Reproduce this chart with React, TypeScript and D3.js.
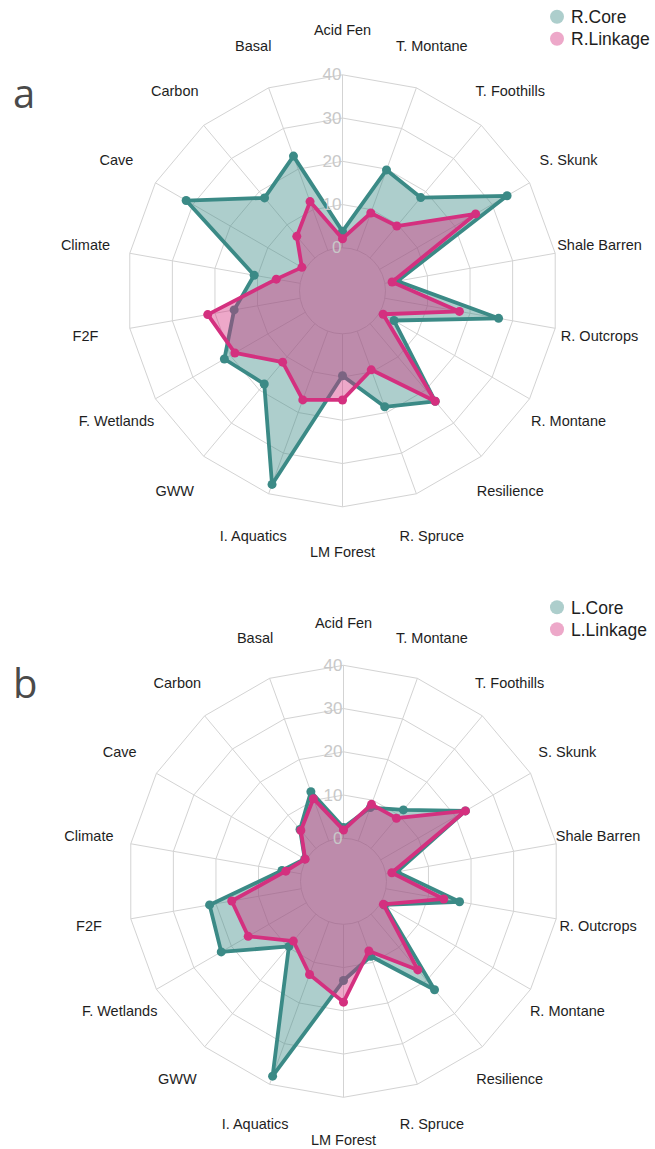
import React from 'react';
import * as d3 from 'd3';

const categories = [
  'Acid Fen', 'T. Montane', 'T. Foothills', 'S. Skunk', 'Shale Barren', 'R. Outcrops',
  'R. Montane', 'Resilience', 'R. Spruce', 'LM Forest', 'I. Aquatics', 'GWW',
  'F. Wetlands', 'F2F', 'Climate', 'Cave', 'Carbon', 'Basal',
];
const radialTicks = [0, 10, 20, 30, 40];

const rCore = [3.8, 19.8, 18.2, 34, 2.9, 26.7, 3.8, 23.4, 18.6, 9.7, 37.7, 18.2, 21.6, 15.5, 10.8, 31.8, 18.1, 23.2];
const rLinkage = [2.1, 9.2, 9.6, 25.6, 1.7, 17.5, 0.9, 23.4, 9.5, 15.3, 16.9, 11.6, 18.8, 21.7, 5.6, 0.9, 6.5, 12.0];
const lCore = [2.5, 8.2, 11.6, 22.6, 2.6, 17.3, 1.0, 22.8, 8.5, 13.0, 38.0, 9.7, 22.7, 21.5, 4.5, 0.4, 5.7, 12.1];
const lLinkage = [1.9, 9.0, 9.1, 22.6, 1.4, 13.6, 0.7, 16.8, 7.2, 18.0, 13.0, 8.1, 15.5, 16.3, 3.6, 0.3, 5.4, 10.4];

const seriesNamesA = ['R.Core', 'R.Linkage'];
const seriesNamesB = ['L.Core', 'L.Linkage'];

const TEAL = '#3b8a86';
const PINK = '#d4307f';
const FILL_OPACITY = 0.42;

const W = 655;
const H = 1149;
const R0 = 43;
const R1 = 216;

type Series = { name: string; values: number[]; color: string };

function Radar({ cx, cy, letter, series, labelR }: { cx: number; cy: number; letter: string; series: Series[]; labelR: number }) {
  const n = categories.length;
  const angle = d3.scaleLinear().domain([0, n]).range([0, 2 * Math.PI]);
  const r = d3.scaleLinear().domain([0, 40]).range([R0, R1]);

  const radialLine = d3
    .lineRadial<number>()
    .angle((_, i) => angle(i))
    .radius((d) => r(d))
    .curve(d3.curveLinearClosed);

  const gridLevels = radialTicks.filter((t) => t > 0);
  const gridColor = '#d3d3d3';

  return (
    <g>
      <text x={13} y={cy - 183} fontFamily="'Open Sans', 'DejaVu Sans', sans-serif" fontSize={40} fill="#4a4a4a">
        {letter}
      </text>
      <g transform={`translate(${cx},${cy})`}>
        <circle r={r(0)} fill="none" stroke={gridColor} strokeWidth={1} />
        {gridLevels.map((t) => (
          <path key={t} d={radialLine(categories.map(() => t)) || ''} fill="none" stroke={gridColor} strokeWidth={1} />
        ))}
        {categories.map((c, i) => {
          const [x0, y0] = d3.pointRadial(angle(i), r(0));
          const [x1, y1] = d3.pointRadial(angle(i), r(40));
          return <line key={c} x1={x0} y1={y0} x2={x1} y2={y1} stroke={gridColor} strokeWidth={1} />;
        })}
        {series.map((s) => (
          <g key={s.name}>
            <path d={radialLine(s.values) || ''} fill={s.color} fillOpacity={FILL_OPACITY} stroke="none" />
            <path d={radialLine(s.values) || ''} fill="none" stroke={s.color} strokeWidth={3.8} strokeLinejoin="round" />
            {s.values.map((v, i) => {
              const [x, y] = d3.pointRadial(angle(i), r(v));
              return <circle key={i} cx={x} cy={y} r={4.5} fill={s.color} />;
            })}
          </g>
        ))}
        {radialTicks.map((t) => (
          <text
            key={t}
            x={-1}
            y={-r(t)}
            textAnchor="end"
            dominantBaseline="central"
            fontFamily="'Liberation Sans', Arial, sans-serif"
            fontSize={17}
            fill="#c8c8c8"
          >
            {t}
          </text>
        ))}
        {categories.map((c, i) => {
          const [x, y] = d3.pointRadial(angle(i), labelR);
          return (
            <text
              key={c}
              x={x}
              y={y}
              textAnchor="middle"
              dominantBaseline="central"
              fontFamily="'Liberation Sans', Arial, sans-serif"
              fontSize={14.5}
              fill="#1e1e1e"
            >
              {c}
            </text>
          );
        })}
      </g>
      <g transform={`translate(557,${cy - 274})`}>
        {series.map((s, i) => (
          <g key={s.name} transform={`translate(0,${i * 22})`}>
            <circle r={7} fill={s.color} fillOpacity={FILL_OPACITY} />
            <text
              x={14}
              y={0.5}
              dominantBaseline="central"
              fontFamily="'Liberation Sans', Arial, sans-serif"
              fontSize={17.5}
              fill="#1e1e1e"
            >
              {s.name}
            </text>
          </g>
        ))}
      </g>
    </g>
  );
}

export default function App() {
  const seriesA: Series[] = [
    { name: seriesNamesA[0], values: rCore, color: TEAL },
    { name: seriesNamesA[1], values: rLinkage, color: PINK },
  ];
  const seriesB: Series[] = [
    { name: seriesNamesB[0], values: lCore, color: TEAL },
    { name: seriesNamesB[1], values: lLinkage, color: PINK },
  ];
  return (
    <svg
      width={W}
      height={H}
      viewBox={`0 0 ${W} ${H}`}
      style={{ position: 'absolute', left: 0, top: 0, background: '#fff' }}
    >
      <rect width={W} height={H} fill="#fff" />
      <Radar cx={342.5} cy={290.8} letter="a" series={seriesA} labelR={261} />
      <Radar cx={343.5} cy={881.3} letter="b" series={seriesB} labelR={258.5} />
    </svg>
  );
}
